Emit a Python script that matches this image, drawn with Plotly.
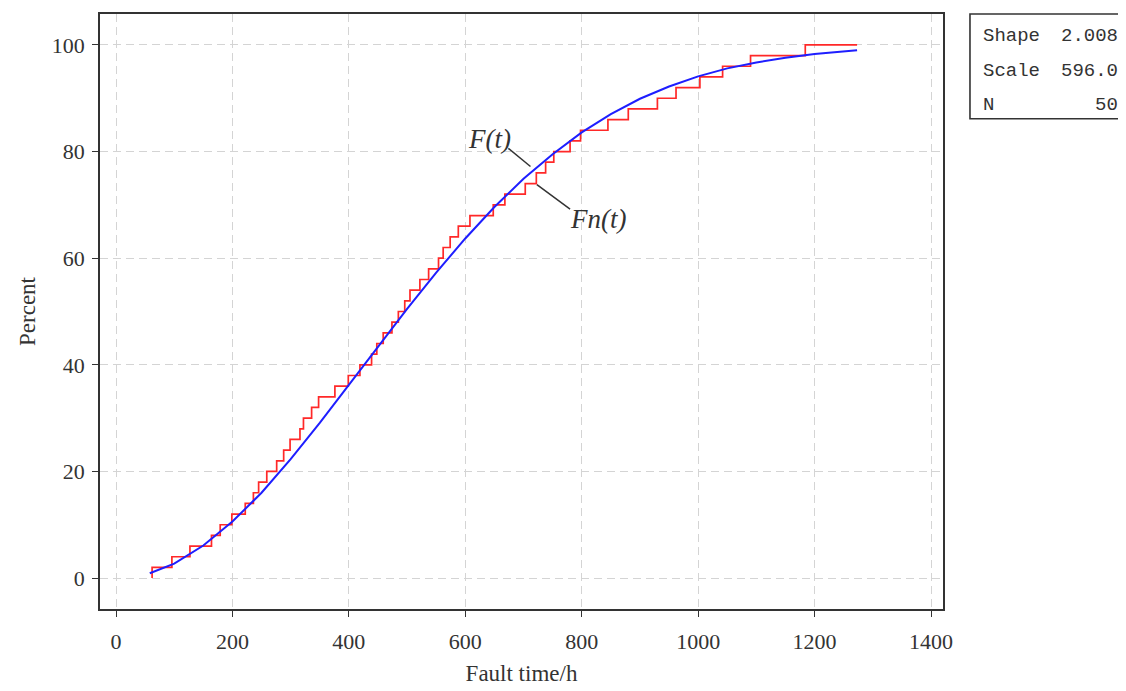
import plotly.graph_objects as go

# ---- data ----
# empirical CDF Fn(t): failure times (h) where the step jumps, and the level (%) after each jump
fail_times = [62, 96, 127, 164, 179, 199, 222, 236, 245, 259,
              276, 288, 299, 316, 322, 336, 348, 376, 399, 419,
              439, 448, 459, 474, 485, 496, 505, 522, 537, 554,
              562, 574, 588, 608, 648, 668, 703, 722, 738, 752,
              780, 798, 845, 880, 930, 962, 1003, 1042, 1090, 1184]
fn_levels = [2, 4, 6, 8, 10, 12, 14, 16, 18, 20,
             22, 24, 26, 28, 30, 32, 34, 36, 38, 40,
             42, 44, 46, 48, 50, 52, 54, 56, 58, 60,
             62, 64, 66, 68, 70, 72, 74, 76, 78, 80,
             82, 84, 86, 88, 90, 92, 94, 96, 98, 100]
t_end = 1273

# fitted Weibull CDF F(t)
ft_times = [58, 100, 150, 200, 250, 300, 350, 400, 450, 500, 550, 600,
            650, 700, 750, 800, 850, 900, 950, 1000, 1050, 1100, 1150, 1200, 1273]
ft_values = [0.9, 2.7, 6.1, 10.6, 16.0, 22.3, 29.1, 36.2, 43.4, 50.5, 57.3, 63.7,
             69.6, 74.9, 79.5, 83.6, 87.0, 89.9, 92.2, 94.1, 95.6, 96.7, 97.6, 98.3, 99.0]

x_ticks = [0, 200, 400, 600, 800, 1000, 1200, 1400]
y_ticks = [0, 20, 40, 60, 80, 100]

stats_labels = ["Shape", "Scale", "N"]
stats_values = ["2.008", "596.0", "50"]

# ---- build figure ----
step_x = [fail_times[0]] + fail_times + [t_end]
step_y = [0] + fn_levels + [fn_levels[-1]]

fig = go.Figure()
fig.add_trace(go.Scatter(x=step_x, y=step_y, mode="lines", line_shape="hv",
                         line=dict(color="rgb(255,40,40)", width=1.7),
                         name="Fn(t)", showlegend=False))
fig.add_trace(go.Scatter(x=ft_times, y=ft_values, mode="lines",
                         line=dict(color="rgb(30,30,255)", width=2),
                         name="F(t)", showlegend=False))

serif = "Liberation Serif"
axis_common = dict(showline=True, linecolor="#333333", linewidth=1.6, mirror=True,
                   ticks="outside", ticklen=6, tickcolor="#333333", tickwidth=1.3,
                   showgrid=True, gridcolor="#d4d4d4", griddash="8px,5px", gridwidth=1.2,
                   zeroline=False,
                   tickfont=dict(family=serif, size=22, color="#333333"),
                   title_font=dict(family=serif, size=23, color="#333333"))

fig.update_xaxes(range=[-27.5, 1420.6], tickvals=x_ticks, ticklabelstandoff=6,
                 title_text="Fault time/h", title_standoff=12, **axis_common)
fig.update_yaxes(range=[-5.8, 105.8], tickvals=y_ticks, ticklabelstandoff=3,
                 title_text="Percent", title_standoff=10, **axis_common)

# curve labels with leader lines
fig.add_annotation(x=642, y=82.4, text="<i>F(t)</i>", showarrow=False,
                   font=dict(family=serif, size=27, color="#333333"))
fig.add_annotation(x=828, y=67.3, text="<i>Fn(t)</i>", showarrow=False,
                   font=dict(family=serif, size=27, color="#333333"))
fig.add_shape(type="line", xref="x", yref="y", x0=674, y0=80.6, x1=712, y1=77.2,
              line=dict(color="#333333", width=1.5))
fig.add_shape(type="line", xref="x", yref="y", x0=723, y0=73.8, x1=780, y1=69.2,
              line=dict(color="#333333", width=1.5))

# statistics box
fig.add_shape(type="rect", xref="paper", yref="paper", x0=1.032, y0=0.824, x1=1.25, y1=1.0,
              line=dict(color="#333333", width=1.6), fillcolor="white")
row_y = [0.963, 0.9045, 0.8476]
for lab, val, yy in zip(stats_labels, stats_values, row_y):
    fig.add_annotation(xref="paper", yref="paper", x=1.045, y=yy, text=lab, showarrow=False,
                       xanchor="left", yanchor="middle",
                       font=dict(family="Liberation Mono", size=19, color="#333333"))
    fig.add_annotation(xref="paper", yref="paper", x=1.210, y=yy, text=val, showarrow=False,
                       xanchor="right", yanchor="middle",
                       font=dict(family="Liberation Mono", size=19, color="#333333"))

# page body has an 8px margin, so shift the figure margins accordingly
fig.update_layout(width=1126, height=691, margin=dict(l=92, r=191, t=4, b=90),
                  plot_bgcolor="white", paper_bgcolor="white", showlegend=False)

fig.write_html("out.html")
